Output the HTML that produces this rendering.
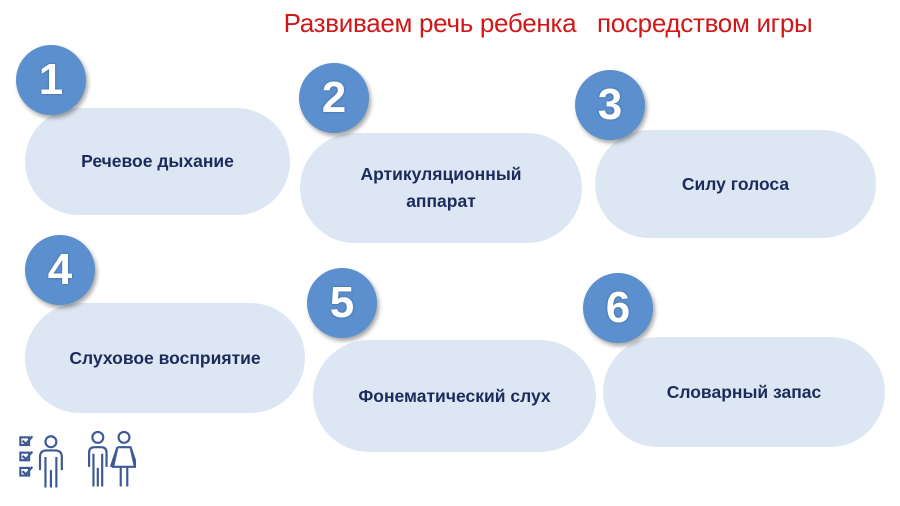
<!DOCTYPE html>
<html><head><meta charset="utf-8"><style>
body{margin:0;width:900px;height:506px;background:#fff;position:relative;overflow:hidden;font-family:"Liberation Sans","Noto Sans CJK SC",sans-serif}
.t{position:absolute;left:0;width:1096px;top:8px;text-align:center;color:#d01818;font-size:26px;letter-spacing:-0.3px}
.p{position:absolute;background:#dde7f3;border-radius:56px;display:flex;align-items:center;justify-content:center;text-align:center;color:#1c2a5c;font-weight:bold;font-size:17.5px;line-height:27px}
.c{position:absolute;width:70px;height:70px;border-radius:50%;background:#5b8fcd;box-shadow:2px 3px 4px rgba(0,0,0,.35);color:#fff;font-weight:bold;font-size:44px;display:flex;align-items:center;justify-content:center;text-shadow:0 0 2px #3a5f90}
</style></head><body>
<div class="t">Развиваем речь ребенка&nbsp;&nbsp;&nbsp;посредством игры</div>
<div class="p" style="left:25px;top:108px;width:265px;height:107px">Речевое дыхание</div>
<div class="p" style="left:300px;top:133px;width:282px;height:110px">Артикуляционный<br>аппарат</div>
<div class="p" style="left:595px;top:130px;width:281px;height:108px">Силу голоса</div>
<div class="p" style="left:25px;top:303px;width:280px;height:110px">Слуховое восприятие</div>
<div class="p" style="left:313px;top:340px;width:283px;height:112px">Фонематический слух</div>
<div class="p" style="left:603px;top:337px;width:282px;height:110px">Словарный запас</div>
<div class="c" style="left:16px;top:45px">1</div>
<div class="c" style="left:299px;top:63px">2</div>
<div class="c" style="left:575px;top:70px">3</div>
<div class="c" style="left:25px;top:235px">4</div>
<div class="c" style="left:307px;top:268px">5</div>
<div class="c" style="left:583px;top:273px">6</div>
<svg style="position:absolute;left:16px;top:426px" width="120" height="62" viewBox="0 0 110 56" fill="none" stroke="#3d5a96" stroke-width="2">
<rect x="4" y="10" width="8" height="7"/><path d="M6 13l3 3 6-7"/>
<rect x="4" y="24" width="8" height="7"/><path d="M6 27l3 3 6-7"/>
<rect x="4" y="38" width="8" height="7"/><path d="M6 41l3 3 6-7"/>
<circle cx="32" cy="14" r="5"/><path d="M22 40V28q0-6 6-6h8q6 0 6 6v12M27 28v28M32 40v16M37 28v28"/>
<circle cx="75" cy="10" r="5"/><path d="M67 37V24q0-5 5-5h6q5 0 5 5v13M71 25v30M75 38v17M79 25v30"/>
<circle cx="99" cy="10" r="5"/><path d="M93 19h12l6 18M93 19l-6 18M93 19l-4 18h20l-4-18M96 38v17M102 38v17"/>
</svg>
</body></html>
